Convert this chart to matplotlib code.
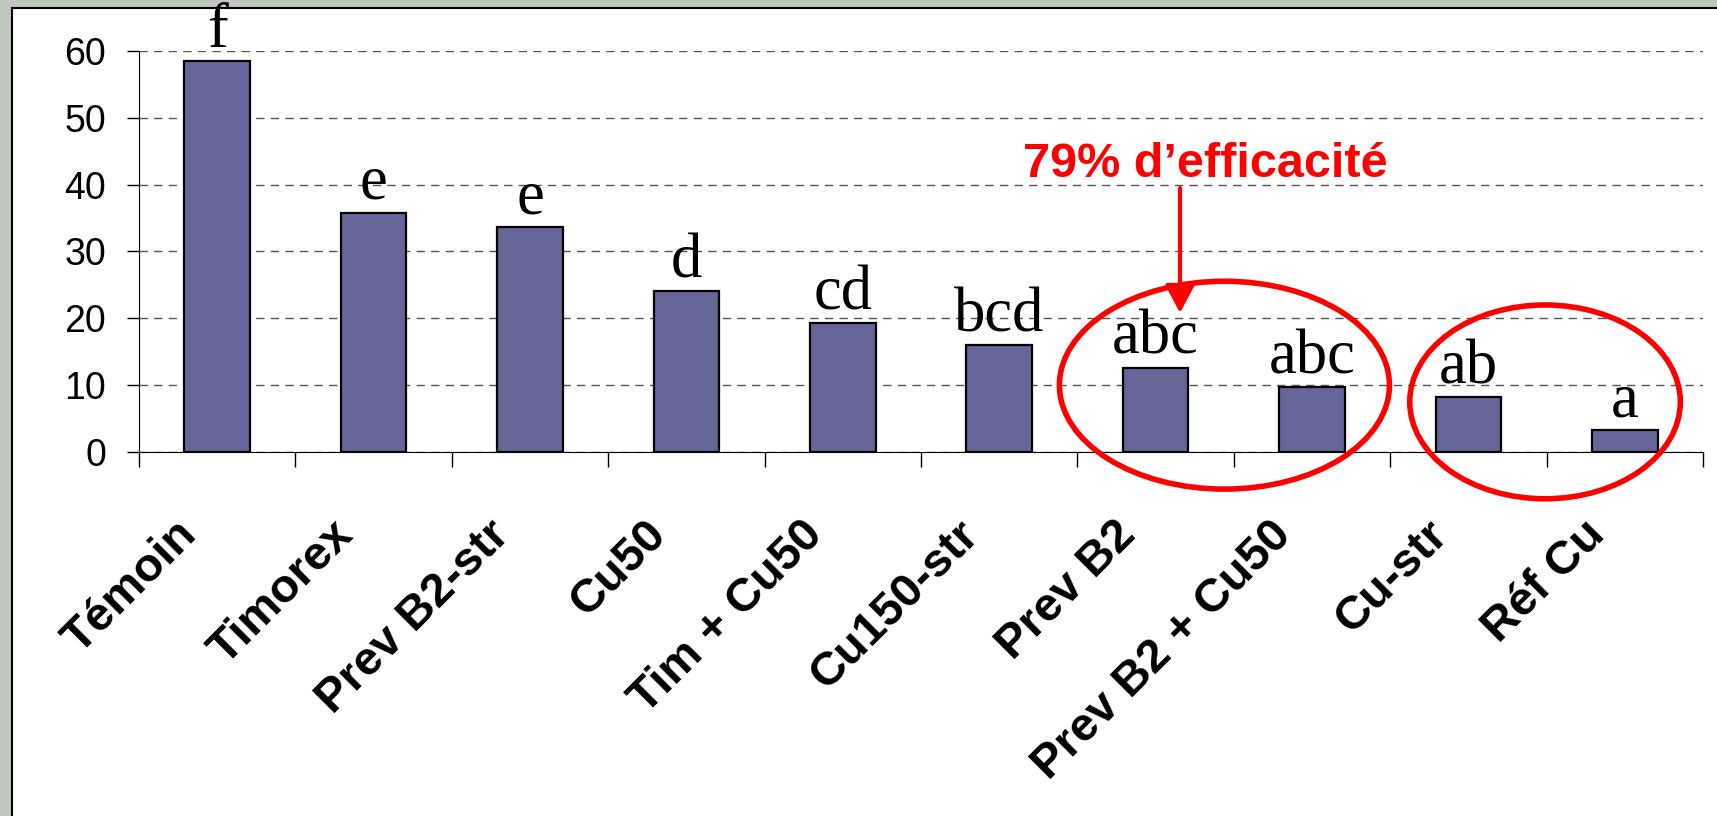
import numpy as np
import matplotlib
matplotlib.use('Agg')
import matplotlib.pyplot as plt
from matplotlib.patches import Ellipse, Rectangle
from matplotlib.transforms import ScaledTranslation

# Data
treatments = ['Témoin', 'Timorex', 'Prev B2-str', 'Cu50', 'Tim + Cu50',
              'Cu150-str', 'Prev B2', 'Prev B2 + Cu50', 'Cu-str', 'Réf Cu']
values = [58.5, 35.8, 33.6, 24.1, 19.3, 16.0, 12.6, 9.7, 8.2, 3.3]
groups = ['f', 'e', 'e', 'd', 'cd', 'bcd', 'abc', 'abc', 'ab', 'a']
yticks = [0, 10, 20, 30, 40, 50, 60]

bar_color = '#666699'
red = '#ff0000'

fig = plt.figure(figsize=(17.17, 8.16), dpi=100, facecolor='#bfc8bc')

# White slide panel with black border (drawn behind the axes)
panel = Rectangle((12 / 1717, -0.01), 1.02, 1 - 8 / 816 + 0.01,
                  transform=fig.transFigure, facecolor='white',
                  edgecolor='black', linewidth=1.5, zorder=-1)
fig.patches.append(panel)

ax = fig.add_axes([0.08096, 0.44608, 0.91089, 0.49142])
ax.set_facecolor('none')

x = np.arange(len(treatments))
ax.bar(x, values, width=0.42, color=bar_color, edgecolor='black',
       linewidth=1.6, zorder=3)

# Significance letters above bars
for xi, v, g in zip(x, values, groups):
    ax.annotate(g, xy=(xi, v), xytext=(0, 10), textcoords='offset points',
                ha='center', va='baseline', fontsize=45,
                family='Liberation Serif', zorder=4, annotation_clip=False)

ax.set_xlim(-0.5, len(treatments) - 0.5)
ax.set_ylim(0, 60)
ax.set_yticks(yticks)
ax.set_yticklabels([str(t) for t in yticks], fontsize=27,
                   family='Liberation Sans')
ax.set_xticks(np.arange(-0.5, len(treatments), 1))
ax.set_xticklabels([])
ax.tick_params(axis='y', direction='out', length=8.6, width=1, pad=15)
ax.tick_params(axis='x', direction='out', length=10.8, width=1)

ax.yaxis.grid(True, color='#555555', linestyle=(0, (6, 4.5)), linewidth=1)
ax.set_axisbelow(True)
ax.spines['top'].set_visible(False)
ax.spines['right'].set_visible(False)

# Rotated bold category labels
offset = ScaledTranslation(-0.27, -0.76, fig.dpi_scale_trans)
for xi, name in zip(x, treatments):
    ax.text(xi, 0, name, transform=ax.get_xaxis_transform() + offset,
            rotation=45, rotation_mode='anchor', ha='right', va='center',
            fontsize=34, fontweight='bold', family='Liberation Sans')

# Red annotations
ax.text(6.32, 41.1, '79% d\u2019efficacité', color=red, fontsize=35,
        fontweight='bold', family='Liberation Sans', ha='center',
        va='baseline', zorder=5)
ax.annotate('', xy=(6.156, 20.8), xytext=(6.156, 39.5),
            arrowprops=dict(arrowstyle='-|>,head_length=0.85,head_width=0.45',
                            color=red, lw=3, mutation_scale=20,
                            shrinkA=0, shrinkB=0), zorder=5)
ax.add_patch(Ellipse((6.44, 10.0), 2.11, 31.1, fill=False, edgecolor=red,
                     linewidth=4, clip_on=False, zorder=5))
ax.add_patch(Ellipse((8.49, 7.5), 1.73, 29.0, fill=False, edgecolor=red,
                     linewidth=4, clip_on=False, zorder=5))

plt.savefig('out.png', dpi=100, facecolor=fig.get_facecolor())
plt.close()
